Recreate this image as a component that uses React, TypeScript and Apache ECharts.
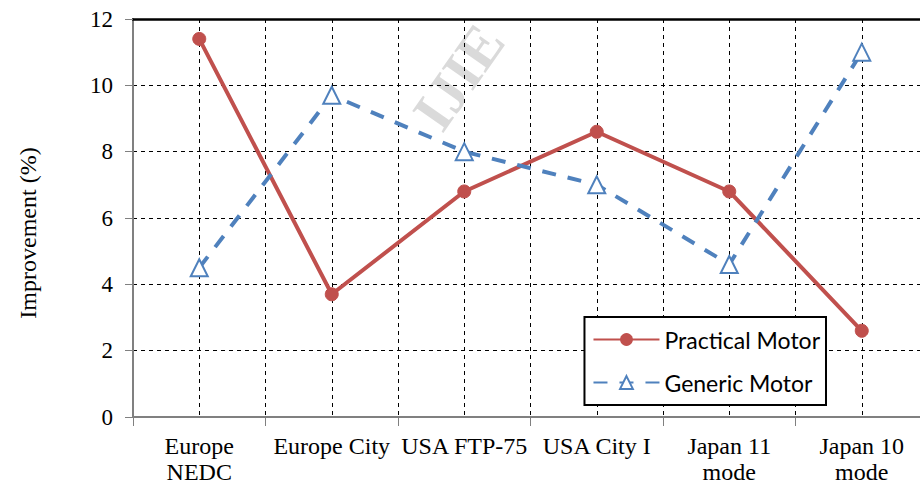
import React, { useEffect, useRef } from "react";
import * as echarts from "echarts";

const categories = ["Europe\nNEDC", "Europe City", "USA FTP-75", "USA City I", "Japan 11\nmode", "Japan 10\nmode"];
const practicalMotor = [11.4, 3.7, 6.8, 8.6, 6.8, 2.6];
const genericMotor = [4.5, 9.7, 8.0, 7.0, 4.6, 11.0];
const yTicks = [0, 2, 4, 6, 8, 10, 12];

export default function App() {
  const ref = useRef<HTMLDivElement>(null);
  useEffect(() => {
    const chart = echarts.init(ref.current!, null, { renderer: "svg" });
    const serif = "'Liberation Serif', 'Times New Roman', serif";
    chart.setOption({
      animation: false,
      backgroundColor: "#ffffff",
      grid: { left: 133, width: 795, top: 19, height: 398, outerBoundsMode: "none", containLabel: false },
      graphic: [
        {
          type: "text",
          x: 450,
          y: 140,
          rotation: 0.96,
          style: {
            text: "IJIE",
            font: "bold 58px 'Liberation Serif', serif",
            fill: "rgba(150,150,150,0.35)",
            verticalAlign: "bottom",
          },
          z: 0,
        },
      ],
      xAxis: [
        {
          type: "category",
          data: categories,
          boundaryGap: true,
          axisLine: { show: true, lineStyle: { color: "#808080", width: 2 } },
          axisTick: { show: true, length: 9, lineStyle: { color: "#808080", width: 1 } },
          axisLabel: { interval: 0, hideOverlap: false, fontFamily: serif, fontSize: 24, color: "#000", margin: 16, lineHeight: 26 },
          splitLine: { show: false },
        },
        {
          type: "value",
          min: 0,
          max: 12,
          interval: 1,
          position: "bottom",
          axisLine: { show: false },
          axisTick: { show: false },
          axisLabel: { show: false },
          splitLine: { show: true, lineStyle: { color: "#000", type: [4, 4], width: 1 } },
        },
        {
          type: "value",
          min: 0,
          max: 12,
          position: "top",
          axisLine: { show: true, lineStyle: { color: "#000", width: 2.5 } },
          axisTick: { show: false },
          axisLabel: { show: false },
          splitLine: { show: false },
        },
      ],
      yAxis: {
        type: "value",
        min: 0,
        max: 12,
        interval: 2,
        name: "Improvement (%)",
        nameLocation: "middle",
        nameGap: 93,
        nameTextStyle: { fontFamily: serif, fontSize: 24, color: "#000", padding: [0, 30, 0, 0] },
        axisLine: { show: true, lineStyle: { color: "#808080", width: 2 } },
        axisTick: { show: true, length: 8, lineStyle: { color: "#808080" } },
        axisLabel: {
          fontFamily: serif,
          fontSize: 23,
          color: "#000",
          margin: 20,
          formatter: (v: number) => (yTicks.includes(v) ? String(v) : ""),
        },
        splitLine: { show: true, lineStyle: { color: "#000", type: [4, 4], width: 1 } },
      },
      legend: {
        right: 94,
        top: 317,
        orient: "vertical",
        backgroundColor: "#fff",
        borderColor: "#000",
        borderWidth: 2,
        borderRadius: 0,
        padding: [10, 6, 10, 8],
        itemGap: 18,
        itemWidth: 66,
        itemHeight: 16,
        textStyle: { fontFamily: "Lato, 'Noto Sans', sans-serif", fontSize: 23, color: "#000", lineHeight: 25 },
        data: ["Practical Motor", "Generic Motor"],
      },
      series: [
        {
          name: "Practical Motor",
          type: "line",
          data: practicalMotor,
          symbol: "circle",
          symbolSize: 13,
          lineStyle: { color: "#C0504D", width: 4 },
          itemStyle: { color: "#C0504D", borderColor: "#C0504D" },
          z: 3,
        },
        {
          name: "Generic Motor",
          type: "line",
          data: genericMotor,
          symbol: "triangle",
          symbolSize: 17,
          showAllSymbol: true,
          lineStyle: { color: "#4F81BD", width: 4, type: [14, 12] },
          itemStyle: { color: "#ffffff", borderColor: "#4F81BD", borderWidth: 2 },
          z: 4,
        },
      ],
    });
    return () => chart.dispose();
  }, []);
  return (
    <div
      ref={ref}
      style={{ position: "absolute", left: 0, top: 0, width: 920, height: 491, overflow: "hidden" }}
    />
  );
}
